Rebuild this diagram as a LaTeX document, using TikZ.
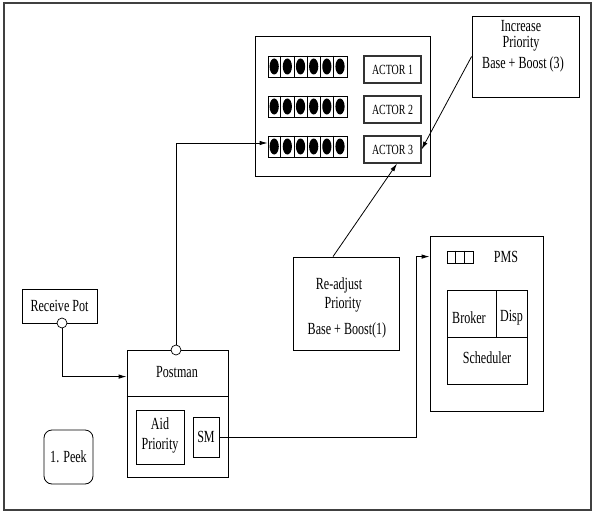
\documentclass[tikz,border=0pt]{standalone}
\usepackage{fontspec}
\setmainfont{Liberation Serif}[FakeStretch=0.71]
\usetikzlibrary{arrows.meta,calc}
\begin{document}
\begin{tikzpicture}[x=1pt,y=-1pt,
  every node/.style={font=\fontsize{17}{20}\selectfont, inner sep=0pt},
  box/.style={draw, line width=0.8pt},
  abox/.style={draw, line width=1.2pt, black!80, text=black, font=\fontsize{14}{16}\selectfont},
  ln/.style={line width=0.8pt},
  arr/.style={ln, -{Latex[length=8pt,width=4.5pt]}},
  port/.style={draw, circle, line width=0.7pt, minimum size=10pt, fill=white},
]
\useasboundingbox (0,0) rectangle (592,511);
\draw[line width=1.2pt, black!75] (4,3) rectangle (591,510);

% actors block
\node[box, minimum width=175pt, minimum height=140pt] (act) at (342.5,106) {};
\foreach \n/\y in {1/66.5,2/106.5,3/146.5}{
  \node[box, minimum width=79pt, minimum height=21pt] (q\n) at (307.5,\y) {};
  \foreach \i in {1,...,5}{
    \draw[ln] ($(q\n.north west)+(\i*13.1667,0)$) -- ($(q\n.south west)+(\i*13.1667,0)$);
  }
  \foreach \i in {0,...,5}{
    \fill ($(q\n.west)+(\i*13.1667+6.58,0)$) ellipse (4.6 and 8);
  }
}
\node[abox, minimum width=57pt, minimum height=27pt] (a1) at (392.5,69.5) {ACTOR 1};
\node[abox, minimum width=57pt, minimum height=27pt] (a2) at (392.5,109.5) {ACTOR 2};
\node[abox, minimum width=57pt, minimum height=27pt] (a3) at (392.5,149.5) {ACTOR 3};

% increase priority
\node[box, minimum width=107pt, minimum height=81pt] (inc) at (525.5,56.5) {};
\node (inc1) at (521,26) {Increase};
\node (inc2) at (521,44) {Priority};
\node (inc3) at (523,64) {Base + Boost (3)};

% re-adjust priority
\node[box, minimum width=106pt, minimum height=93pt] (ra) at (346,303.5) {};
\node (ra1) at (339,285) {Re-adjust};
\node (ra2) at (343,305) {Priority};
\node (ra3) at (347,330) {Base + Boost(1)};

% PMS
\node[box, minimum width=113pt, minimum height=175pt] (pms) at (486.5,323.5) {};
\node[box, minimum width=26pt, minimum height=12pt] (pq) at (460,257) {};
\draw[ln] ($(pq.north west)+(8.67,0)$) -- ($(pq.south west)+(8.67,0)$);
\draw[ln] ($(pq.north west)+(17.33,0)$) -- ($(pq.south west)+(17.33,0)$);
\node (pmst) at (506,257) {PMS};
\node[box, minimum width=49pt, minimum height=47pt] (brk) at (471.5,313.5) {};
\node (brkt) at (469,318) {Broker};
\node[box, minimum width=31pt, minimum height=47pt] (dsp) at (511.5,313.5) {};
\node (dspt) at (511.5,318) {Disp};
\node[box, minimum width=80pt, minimum height=47pt] (sch) at (487,360.5) {};
\node (scht) at (487,358) {Scheduler};

% receive pot
\node[box, minimum width=75pt, minimum height=34pt] (rp) at (59.5,306) {Receive Pot};

% postman
\node[box, minimum width=101pt, minimum height=127pt] (pm) at (177.5,413.5) {};
\draw[ln] ($(pm.north west)+(0,47)$) -- ($(pm.north east)+(0,47)$);
\node (pmt) at (177,372) {Postman};
\node[box, minimum width=48pt, minimum height=54pt] (aid) at (160,437) {};
\node[align=center] (aidt) at (160,435) {Aid\\Priority};
\node[box, minimum width=26pt, minimum height=40pt] (sm) at (206,437) {SM};
\node[box, rounded corners=8pt, minimum width=49pt, minimum height=54pt] (pk) at (68.5,457) {1. Peek};

% ports
\node[port] (c1) at (62,323) {};
\node[port] (c2) at (176,350) {};

% connectors
\draw[arr] (c1.south) |- ($(pm.north west)+(0,27)$);
\draw[arr] (c2.north) |- ($(q3.west)+(0,-3.5)$);
\draw[arr] (inc.west) -- (a3.east);
\draw[arr] ($(ra.north)+(-13,0)$) -- ($(a3.south)+(4.5,0)$);
\draw[arr] (sm.east) -- ++(197,0) |- ($(pms.north west)+(0,21)$);
\end{tikzpicture}
\end{document}
